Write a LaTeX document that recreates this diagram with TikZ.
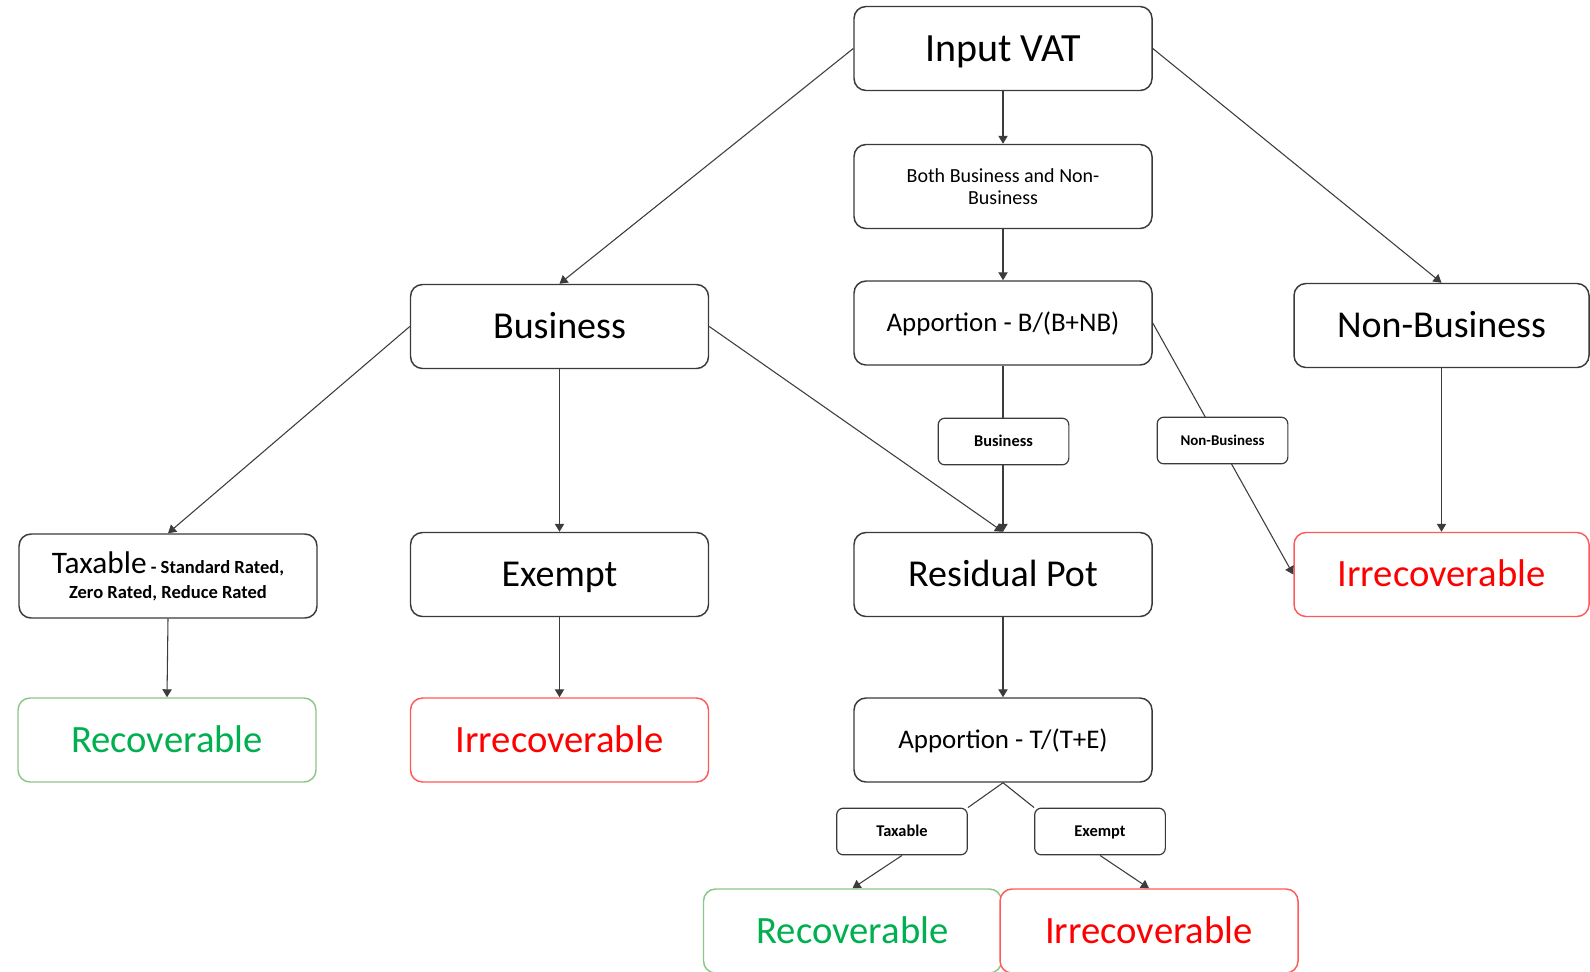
\documentclass[tikz,border=0pt]{standalone}
\usepackage{fontspec}
\setmainfont{Carlito}
\usetikzlibrary{arrows.meta,calc}
\definecolor{boxline}{HTML}{3A3A3A}
\definecolor{recgreen}{HTML}{00B050}
\definecolor{recborder}{HTML}{8CC68A}
\definecolor{irrred}{HTML}{FF0000}
\definecolor{irrborder}{HTML}{FF5A5A}
\definecolor{conn}{HTML}{3C3C3C}
\tikzset{
  box/.style={draw=boxline, line width=1.1pt, rounded corners=9pt, fill=white,
    minimum width=223.5pt, minimum height=63pt, inner sep=0pt, align=center},
  bigtext/.style={text height=18.4pt, text depth=0pt, font=\fontsize{28.5}{34}\selectfont},
  vattext/.style={text height=19.3pt, text depth=0pt, font=\fontsize{30}{34}\selectfont},
  rectext/.style={text height=18.7pt, text depth=0pt, font=\fontsize{29}{34}\selectfont},
  apptext/.style={text height=13pt, text depth=0pt, font=\fontsize{20.2}{24}\selectfont},
  midtext/.style={font=\fontsize{15}{16.5}\selectfont},
  recbox/.style={box, rectext, draw=recborder, text=recgreen},
  irrbox/.style={box, rectext, draw=irrborder, text=irrred},
  tag/.style={draw=boxline, line width=0.9pt, rounded corners=5pt, fill=white,
    minimum width=98pt, minimum height=35pt, inner sep=0pt},
  bigtag/.style={tag, text height=7.9pt, text depth=0pt, font=\bfseries\fontsize{12.3}{14}\selectfont},
  narrowtag/.style={tag, text height=7.2pt, text depth=0pt, font=\bfseries\fontsize{11.2}{13}\selectfont},
  link/.style={draw=conn, line width=0.8pt},
  arr/.style={link, -{Triangle[length=6pt,width=7pt]}},
}
\begin{document}
\begin{tikzpicture}[x=0.75pt,y=-0.75pt]
\useasboundingbox (0,0) rectangle (1590,971);
\clip (0,0) rectangle (1590,971);
% main boxes
\node[box,vattext] (iv) at (1003,48.5) {Input VAT};
\node[box,midtext] (both) at (1003,186.5) {Both Business and Non-\\Business};
\node[box,apptext] (appB) at (1003,323) {Apportion - B/(B+NB)};
\node[box,bigtext] (bus) at (559.5,326.5) {Business};
\node[box,bigtext,minimum width=221.25pt] (nonbus) at (1441.5,325.5) {Non-Business};
\node[box,font=\bfseries\fontsize{13.9}{18.75}\selectfont] (tax) at (168,576)
  {{\mdseries\fontsize{23.5}{18.75}\selectfont Taxable}\ - Standard Rated,\\Zero Rated, Reduce Rated};
\node[box,bigtext] (ex) at (559.5,574.5) {Exempt};
\node[box,bigtext] (res) at (1003,574.5) {Residual Pot};
\node[irrbox,minimum width=221.25pt] (irr1) at (1441.5,574.5) {Irrecoverable};
\node[recbox] (rec1) at (167,740) {Recoverable};
\node[irrbox] (irr2) at (559.5,740) {Irrecoverable};
\node[box,apptext] (appT) at (1003,740) {Apportion - T/(T+E)};
\node[bigtag] (tlab) at (902,831.5) {Taxable};
\node[bigtag] (elab) at (1100,831.5) {Exempt};
\node[recbox] (rec2) at (852.5,931) {Recoverable};
\node[irrbox] (irr3) at (1149,931) {Irrecoverable};
% connectors
\draw[arr] (iv.west) -- (bus.north);
\draw[arr] (iv.east) -- (nonbus.north);
\draw[arr] (iv.south) -- (both.north);
\draw[arr] (both.south) -- (appB.north);
\draw[arr] (appB.south) -- (res.north);
\draw[arr] (appB.east) -- (irr1.west);
\draw[arr] (bus.west) -- (tax.north);
\draw[arr] (bus.south) -- (ex.north);
\draw[arr] (bus.east) -- (res.north);
\draw[arr] (nonbus.south) -- (irr1.north);
\draw[arr] (tax.south) -- (rec1.north);
\draw[arr] (ex.south) -- (irr2.north);
\draw[arr] (res.south) -- (appT.north);
\draw[link] (appT.south) -- (tlab.north east);
\draw[link] (appT.south) -- (elab.north west);
\draw[arr] (tlab.south) -- (rec2.north);
\draw[arr] (elab.south) -- (irr3.north);
% tags sitting on connectors
\node[bigtag] (blab) at (1003.5,441.5) {Business};
\node[narrowtag] (nblab) at (1222.5,440.5) {Non-Business};
\end{tikzpicture}
\end{document}
